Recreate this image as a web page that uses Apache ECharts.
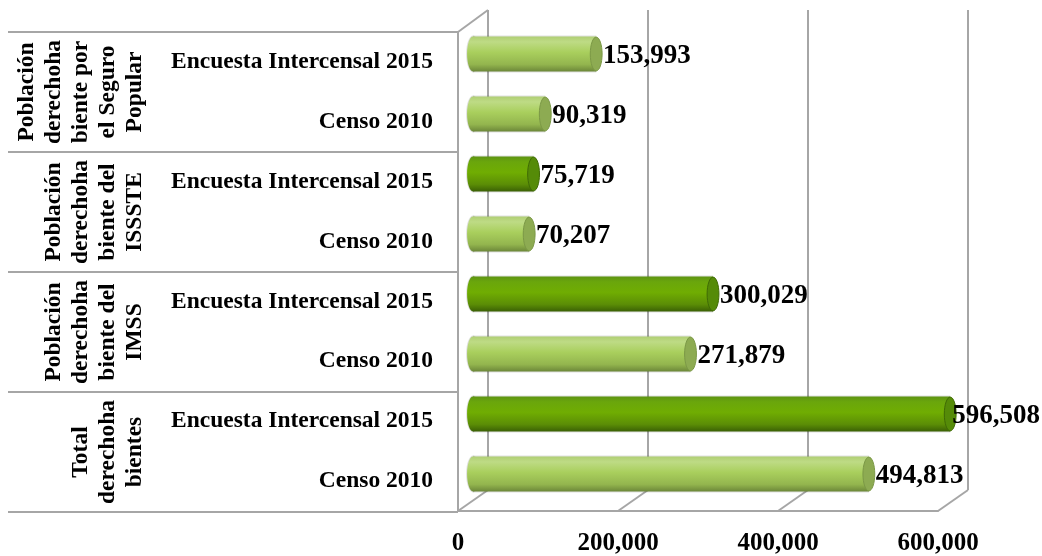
<!DOCTYPE html>
<html>
<head>
<meta charset="UTF-8">
<script src="https://cdn.jsdelivr.net/npm/echarts@6/dist/echarts.min.js"></script>
<style>
html, body { margin: 0; padding: 0; background: #fff; }
#main { width: 1042px; height: 556px; }
</style>
</head>
<body>
<div id="main"></div>
<script>
// rows from bottom to top
var categories = ['Censo 2010', 'Encuesta Intercensal 2015', 'Censo 2010', 'Encuesta Intercensal 2015',
    'Censo 2010', 'Encuesta Intercensal 2015', 'Censo 2010', 'Encuesta Intercensal 2015'];
var groups = ['Total\nderechoha\nbientes',
    'Población\nderechoha\nbiente del\nIMSS',
    'Población\nderechoha\nbiente del\nISSSTE',
    'Población\nderechoha\nbiente por\nel Seguro\nPopular'];
var values = [494813, 596508, 271879, 300029, 70207, 75719, 90319, 153993];
var shades = ['light', 'dark', 'light', 'dark', 'light', 'dark', 'light', 'light'];
var xTicks = [0, 200000, 400000, 600000];

var font = 'Liberation Serif';
var lineColor = '#a6a6a6';

var fills = {
    light: ['#b0cf74', '#bedb85', '#a9cf5d', '#93b54e', '#6c8839'],
    dark: ['#5e9412', '#6aa60c', '#70ad02', '#5b8d06', '#3b6105']
};
var caps = {
    light: { fill: '#8dab52', stroke: '#7b9846' },
    dark: { fill: '#558b08', stroke: '#3f6a05' }
};

function grad(c) {
    return new echarts.graphic.LinearGradient(0, 0, 0, 1, [
        { offset: 0, color: c[0] }, { offset: 0.15, color: c[1] },
        { offset: 0.45, color: c[2] }, { offset: 0.8, color: c[3] },
        { offset: 1, color: c[4] }
    ]);
}

function fmt(v) { return v.toLocaleString('en-US'); }

var chart = echarts.init(document.getElementById('main'));

chart.setOption({
    animation: false,
    grid: [
        { left: 458, right: 104, top: 32, bottom: 44 },   // front plane
        { left: 488, right: 74, top: 10, bottom: 66 },    // back wall
        { left: 473, right: 89, top: 24, bottom: 52 },    // bars
        { left: 8, right: 584, top: 32, bottom: 44 }      // table on the left
    ],
    xAxis: [
        {
            gridIndex: 0, type: 'value', min: 0, max: 600000, interval: 200000,
            axisLine: { show: true, lineStyle: { color: lineColor, width: 2 } },
            axisTick: { show: false }, splitLine: { show: false },
            axisLabel: { margin: 20, color: '#000', fontFamily: font, fontWeight: 'bold', fontSize: 25,
                formatter: function (v) { return fmt(v); } }
        },
        {
            gridIndex: 1, type: 'value', min: 0, max: 600000, interval: 200000,
            axisLine: { show: false }, axisTick: { show: false }, axisLabel: { show: false },
            splitLine: { show: true, lineStyle: { color: lineColor, width: 2 } }
        },
        {
            gridIndex: 2, type: 'value', min: 0, max: 600000, show: false
        },
        {
            gridIndex: 3, type: 'value', show: false
        }
    ],
    yAxis: [
        {
            gridIndex: 0, type: 'category', data: categories,
            axisLine: { show: true, lineStyle: { color: lineColor, width: 2 } },
            axisTick: { show: false },
            axisLabel: { margin: 25, color: '#000', fontFamily: font, fontWeight: 'bold', fontSize: 23.5 }
        },
        {
            gridIndex: 1, type: 'value', show: false
        },
        {
            gridIndex: 2, type: 'category', data: categories, show: false
        },
        {
            gridIndex: 3, type: 'category', data: groups, offset: -140,
            axisLine: { show: false }, axisTick: { show: false },
            splitLine: { show: true, lineStyle: { color: lineColor, width: 2 } },
            axisLabel: { rotate: 90, margin: 0, interval: 0, color: '#000', fontFamily: font,
                fontWeight: 'bold', fontSize: 23.5, lineHeight: 27 }
        }
    ],
    series: [
        {
            type: 'custom',
            xAxisIndex: 2,
            yAxisIndex: 2,
            data: values.map(function (v, i) { return [v, i]; }),
            renderItem: function (params, api) {
                var v = api.value(0);
                var idx = api.value(1);
                var s = shades[params.dataIndex];
                var start = api.coord([0, idx]);
                var end = api.coord([v, idx]);
                var h = api.size([0, 1])[1] * 0.58;
                var rx = h * 0.17;
                var lx = end[0] + rx + 1;
                var align = 'left';
                if (lx + 90 > 1040) { lx = 1040; align = 'right'; }
                return {
                    type: 'group',
                    children: [
                        { type: 'ellipse', shape: { cx: start[0], cy: start[1], rx: rx + 1, ry: h / 2 + 1 },
                          style: { fill: 'rgba(0,0,0,0.12)' } },
                        { type: 'rect', shape: { x: start[0], y: start[1] - h / 2 - 1, width: end[0] - start[0], height: h + 2 },
                          style: { fill: 'rgba(0,0,0,0.12)' } },
                        { type: 'ellipse', shape: { cx: start[0], cy: start[1], rx: rx, ry: h / 2 },
                          style: { fill: grad(fills[s]) } },
                        { type: 'rect', shape: { x: start[0], y: start[1] - h / 2, width: end[0] - start[0], height: h },
                          style: { fill: grad(fills[s]) } },
                        { type: 'ellipse', shape: { cx: end[0], cy: end[1], rx: rx, ry: h / 2 - 0.5 },
                          style: { fill: caps[s].fill, stroke: caps[s].stroke, lineWidth: 1 } },
                        { type: 'text', x: lx, y: end[1] + 2,
                          style: { text: fmt(v), fill: '#000', font: 'bold 27px "' + font + '"',
                                   align: align, verticalAlign: 'middle' } }
                    ]
                };
            }
        }
    ]
});

// 3D frame: diagonals joining the front plane to the back wall
var model = chart.getModel();
var front = model.getComponent('grid', 0).coordinateSystem.getRect();
var back = model.getComponent('grid', 1).coordinateSystem.getRect();
var frame = [];
xTicks.forEach(function (t) {
    var fx = chart.convertToPixel({ xAxisIndex: 0 }, t);
    var bx = chart.convertToPixel({ xAxisIndex: 1 }, t);
    frame.push({ type: 'line', shape: { x1: fx, y1: front.y + front.height, x2: bx, y2: back.y + back.height },
        style: { stroke: lineColor, lineWidth: 2 } });
});
frame.push({ type: 'line', shape: { x1: front.x, y1: front.y, x2: back.x, y2: back.y },
    style: { stroke: lineColor, lineWidth: 2 } });
chart.setOption({ graphic: frame });
</script>
</body>
</html>
